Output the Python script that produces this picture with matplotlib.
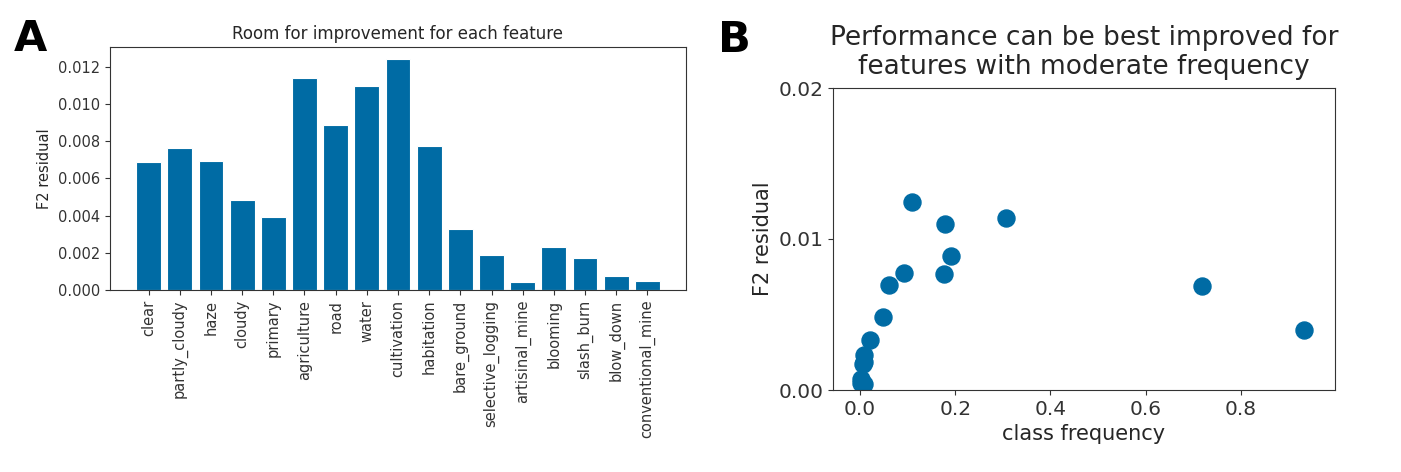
import numpy as np
import matplotlib
matplotlib.use("Agg")
import matplotlib.pyplot as plt

# per-feature F2 residuals and class frequencies
features = ["clear", "partly_cloudy", "haze", "cloudy", "primary", "agriculture",
            "road", "water", "cultivation", "habitation", "bare_ground",
            "selective_logging", "artisinal_mine", "blooming", "slash_burn",
            "blow_down", "conventional_mine"]
residual = [0.0069, 0.00765, 0.00695, 0.00485, 0.00395, 0.0114,
            0.0089, 0.0110, 0.01245, 0.00775, 0.0033,
            0.00187, 0.00042, 0.0023, 0.0017,
            0.00075, 0.00047]
frequency = [0.718, 0.177, 0.061, 0.048, 0.933, 0.307,
             0.190, 0.179, 0.110, 0.093, 0.021,
             0.008, 0.008, 0.008, 0.006,
             0.002, 0.002]

color = "#006BA4"
plt.rcParams['font.family'] = ['DejaVu Sans']
plt.rcParams['axes.edgecolor'] = "#333333"
plt.rcParams['text.color'] = "#262626"
plt.rcParams['axes.labelcolor'] = "#262626"
plt.rcParams['xtick.color'] = "#333333"
plt.rcParams['ytick.color'] = "#333333"

fig = plt.figure(figsize=(14.01, 4.72), dpi=100)

# panel A: bars
ax1 = fig.add_axes([110/1401, 1-290/472, 576/1401, 243/472])
x = np.arange(len(features))
ax1.bar(x, residual, color=color, edgecolor="white", linewidth=0.8)
ax1.set_xticks(x)
ax1.set_xticklabels(features, rotation=90, fontsize=10.5)
ax1.set_yticks(np.arange(0, 0.0121, 0.002))
ax1.set_yticklabels(["%.3f" % v for v in np.arange(0, 0.0121, 0.002)], fontsize=10.5)
ax1.set_ylabel("F2 residual", fontsize=10.5)
ax1.set_title("Room for improvement for each feature", fontsize=12)
fig.text(14/1401, 1-51/472, "A", fontsize=31, fontweight="bold", color="black")

# panel B: scatter
ax2 = fig.add_axes([833/1401, 1-390/472, 502/1401, 302/472])
ax2.scatter(frequency, residual, s=150, color=color)
ax2.set_ylim(0, 0.02)
ax2.set_xlim(-0.057, 0.998)
ax2.set_yticks([0, 0.01, 0.02])
ax2.set_yticklabels(["0.00", "0.01", "0.02"])
ax2.set_xticks([0.0, 0.2, 0.4, 0.6, 0.8])
ax2.tick_params(labelsize=14.5)
ax2.set_xlabel("class frequency", fontsize=15)
ax2.set_ylabel("F2 residual", fontsize=15)
ax2.set_title("Performance can be best improved for\nfeatures with moderate frequency",
              fontsize=19, linespacing=1.15, pad=10)
fig.text(718/1401, 1-52/472, "B", fontsize=31, fontweight="bold", color="black")

fig.savefig("out.png", dpi=100)
